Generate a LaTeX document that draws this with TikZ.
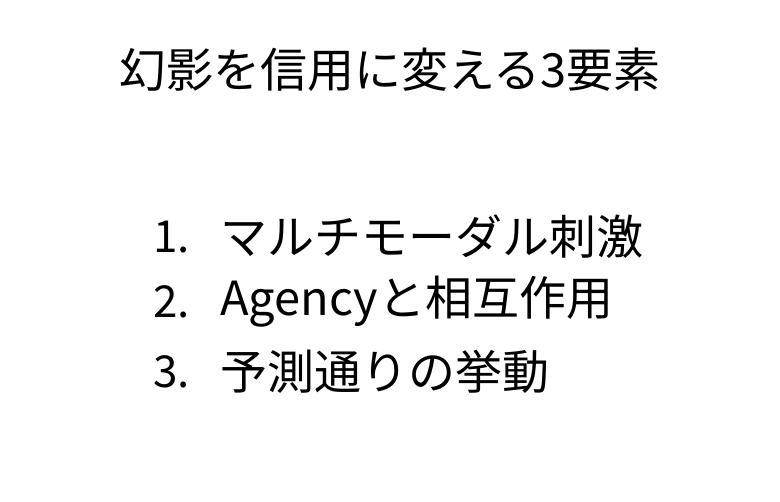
\documentclass[tikz,border=0pt]{standalone}
\usepackage{fontspec}
\setmainfont{Noto Sans CJK JP}
\usetikzlibrary{positioning}
\begin{document}
\begin{tikzpicture}[x=1pt,y=1pt,
	  title/.style={font=\fontsize{47}{56}\selectfont, inner sep=0pt},
	  item/.style={font=\fontsize{47}{56}\selectfont, anchor=west, inner sep=0pt},
	  num/.style={font=\fontsize{44}{52}\selectfont, anchor=west, inner sep=0pt}
	]
	\useasboundingbox (0,0) rectangle (780,502);

	\node[title] (head) at (390,432) {幻影を信用に変える3要素};

	\node[num] (n1) at (153,265) {1.};
	\node[item] (i1) at (220,265) {マルチモーダル刺激};
	\node[num] (n2) at (153,200) {2.};
	\node[item] (i2) at (220,200) {Agencyと相互作用};
	\node[num] (n3) at (153,130) {3.};
	\node[item] (i3) at (220,130) {予測通りの挙動};
\end{tikzpicture}
\end{document}
